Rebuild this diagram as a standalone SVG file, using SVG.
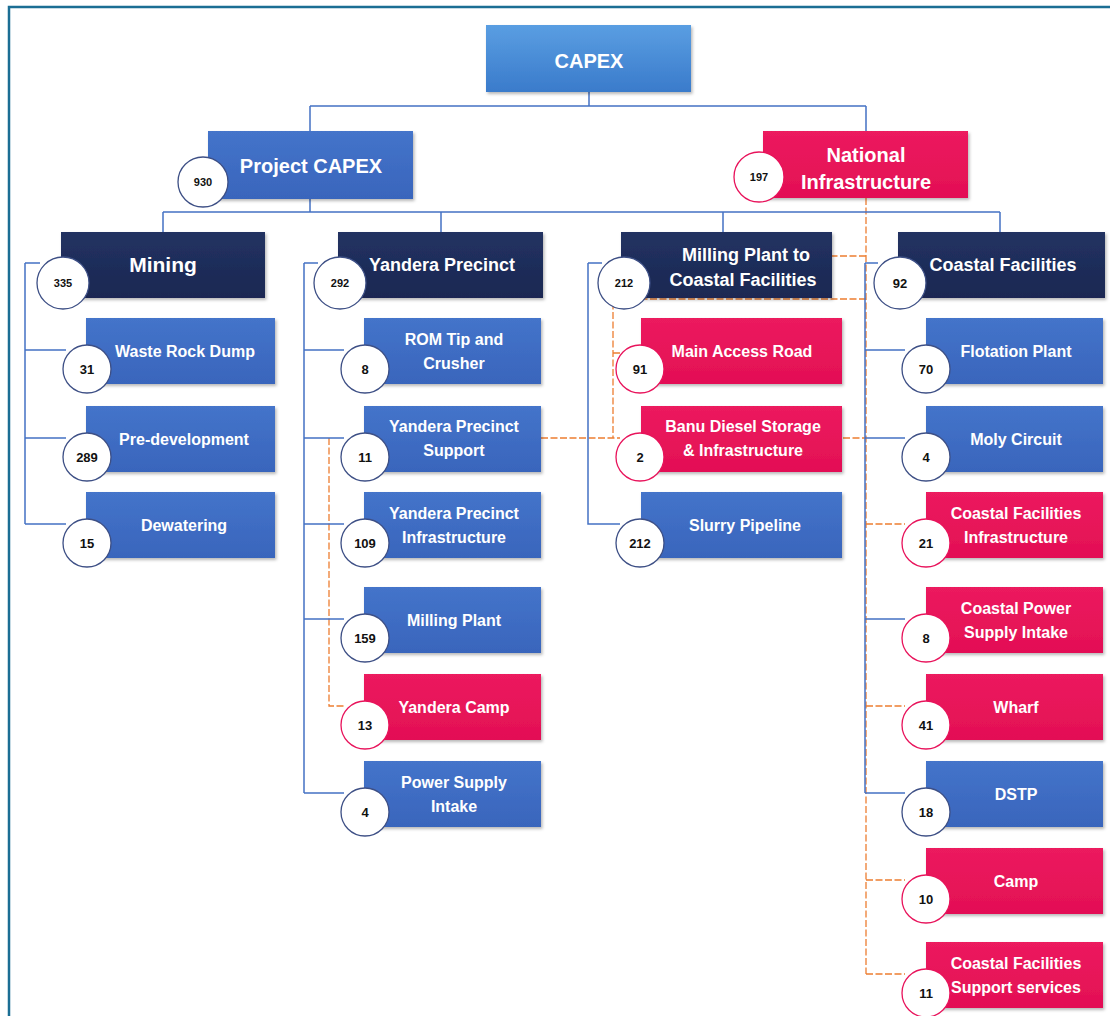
<svg xmlns="http://www.w3.org/2000/svg" width="1110" height="1016" viewBox="0 0 1110 1016">
<defs>
<linearGradient id="gCapex" x1="0" y1="0" x2="0" y2="1"><stop offset="0" stop-color="#5a9ee2"/><stop offset="1" stop-color="#3a7bcb"/></linearGradient>
<linearGradient id="gBlue" x1="0" y1="0" x2="0" y2="1"><stop offset="0" stop-color="#4474ca"/><stop offset="1" stop-color="#3965bc"/></linearGradient>
<linearGradient id="gNavy" x1="0" y1="0" x2="0" y2="1"><stop offset="0" stop-color="#223262"/><stop offset="1" stop-color="#1b2852"/></linearGradient>
<linearGradient id="gRed" x1="0" y1="0" x2="0" y2="1"><stop offset="0" stop-color="#ec1a5e"/><stop offset="1" stop-color="#e30f55"/></linearGradient>
<filter id="sh" x="-10%" y="-10%" width="125%" height="130%"><feDropShadow dx="1.5" dy="2" stdDeviation="1.5" flood-color="#000" flood-opacity="0.28"/></filter>
<style>
.capex{fill:url(#gCapex);filter:url(#sh)}
.blue{fill:url(#gBlue);filter:url(#sh)}
.navy{fill:url(#gNavy);filter:url(#sh)}
.red{fill:url(#gRed);filter:url(#sh)}
.t{font-family:"Liberation Sans",Arial,sans-serif;font-weight:bold;fill:#fff;text-anchor:middle}
.t1{font-size:20px}
.t2{font-size:18px}
.t3{font-size:16px}
.cb{fill:#fff;stroke:#3d4f85;stroke-width:1.3}
.cr{fill:#fff;stroke:#e8135b;stroke-width:1.3}
.n{font-family:"Liberation Sans",Arial,sans-serif;font-weight:bold;fill:#111;text-anchor:middle;font-size:13px}
.ns{font-size:11px}
.bl{fill:none;stroke:#4472c4;stroke-width:1.5}
.or{fill:none;stroke:#ed7d31;stroke-width:1.3;stroke-dasharray:7,2.5}
</style>
</defs>
<rect width="1110" height="1016" fill="#fff"/>
<path d="M9,1016 V7 H1110" fill="none" stroke="#1b6e94" stroke-width="2.5"/>

<g id="connectors">
<path class="or" d="M866,198 V974 M866,256 H832 M866,299 H613 V438 M613,353 H620 M541,438 H620 M843,438 H866 M329,438 V706 H345 M866,524 H905 M866,706 H905 M866,880 H905 M866,974 H905"/>
<path class="bl" d="M589,92 V106 M310,106 H866 M310,106 V131 M866,106 V131 M310,199 V212 M163,212 H1000 M163,212 V232 M441,212 V232 M723,212 V232 M1000,212 V232"/>
<path class="bl" d="M25,263 H40 M25,263 V524 M25,350 H66 M25,438 H66 M25,524 H66"/>
<path class="bl" d="M304,263 H318 M304,263 V793 M304,350 H344 M304,438 H344 M304,524 H344 M304,619 H344 M304,793 H344"/>
<path class="bl" d="M588,263 H602 M588,263 V524 H620"/>
<path class="bl" d="M865,263 H878 M865,263 V793 M865,350 H905 M865,438 H905 M865,619 H905 M865,793 H905"/>
</g>

<g id="n-capex"><rect class="capex" x="486" y="25" width="205" height="67"/><text class="t t1" x="589" y="68">CAPEX</text></g>

<g id="n-project"><rect class="blue" x="208" y="131" width="205" height="68"/><text class="t t1" x="311" y="173">Project CAPEX</text><circle class="cb" cx="203" cy="182" r="25"/><text class="n ns" x="203" y="186">930</text></g>

<g id="n-national"><rect class="red" x="763" y="131" width="205" height="67"/><text class="t" style="font-size:20px" x="866" y="162">National</text><text class="t" style="font-size:20px" x="866" y="189">Infrastructure</text><circle class="cr" cx="759" cy="177" r="25"/><text class="n ns" x="759" y="181">197</text></g>

<g id="n-mining"><rect class="navy" x="61" y="232" width="204" height="66"/><text class="t" style="font-size:21px" x="163" y="272">Mining</text><circle class="cb" cx="63" cy="283" r="26"/><text class="n ns" x="63" y="287">335</text></g>
<g id="n-yandera"><rect class="navy" x="338" y="232" width="205" height="66"/><text class="t t2" x="442" y="271">Yandera Precinct</text><circle class="cb" cx="340" cy="283" r="26"/><text class="n ns" x="340" y="287">292</text></g>
<g id="n-milling"><rect class="navy" x="621" y="232" width="211" height="66"/><text class="t t2" x="746" y="261">Milling Plant to</text><text class="t t2" x="743" y="286">Coastal Facilities</text><circle class="cb" cx="624" cy="283" r="26"/><text class="n ns" x="624" y="287">212</text></g>
<g id="n-coastal"><rect class="navy" x="898" y="232" width="207" height="66"/><text class="t t2" x="1003" y="271">Coastal Facilities</text><circle class="cb" cx="900" cy="283" r="26"/><text class="n" x="900" y="288">92</text></g>

<!-- Mining column -->
<g id="n-waste"><rect class="blue" x="86" y="318" width="189" height="66"/><text class="t t3" x="185" y="357">Waste Rock Dump</text><circle class="cb" cx="87" cy="369" r="24"/><text class="n" x="87" y="374">31</text></g>
<g id="n-predev"><rect class="blue" x="86" y="406" width="189" height="66"/><text class="t t3" x="184" y="445">Pre-development</text><circle class="cb" cx="87" cy="457" r="24"/><text class="n" x="87" y="462">289</text></g>
<g id="n-dewater"><rect class="blue" x="86" y="492" width="189" height="66"/><text class="t t3" x="184" y="531">Dewatering</text><circle class="cb" cx="87" cy="543" r="24"/><text class="n" x="87" y="548">15</text></g>

<!-- Yandera column -->
<g id="n-rom"><rect class="blue" x="364" y="318" width="177" height="66"/><text class="t t3" x="454" y="345">ROM Tip and</text><text class="t t3" x="454" y="369">Crusher</text><circle class="cb" cx="365" cy="369" r="24"/><text class="n" x="365" y="374">8</text></g>
<g id="n-ypsupport"><rect class="blue" x="364" y="406" width="177" height="66"/><text class="t t3" x="454" y="432">Yandera Precinct</text><text class="t t3" x="454" y="456">Support</text><circle class="cb" cx="365" cy="457" r="24"/><text class="n" x="365" y="462">11</text></g>
<g id="n-ypinfra"><rect class="blue" x="364" y="492" width="177" height="66"/><text class="t t3" x="454" y="519">Yandera Precinct</text><text class="t t3" x="454" y="543">Infrastructure</text><circle class="cb" cx="365" cy="543" r="24"/><text class="n" x="365" y="548">109</text></g>
<g id="n-millplant"><rect class="blue" x="364" y="587" width="177" height="66"/><text class="t t3" x="454" y="626">Milling Plant</text><circle class="cb" cx="365" cy="638" r="24"/><text class="n" x="365" y="643">159</text></g>
<g id="n-ycamp"><rect class="red" x="364" y="674" width="177" height="66"/><text class="t t3" x="454" y="713">Yandera Camp</text><circle class="cr" cx="365" cy="725" r="24"/><text class="n" x="365" y="730">13</text></g>
<g id="n-power"><rect class="blue" x="364" y="761" width="177" height="66"/><text class="t t3" x="454" y="788">Power Supply</text><text class="t t3" x="454" y="812">Intake</text><circle class="cb" cx="365" cy="812" r="24"/><text class="n" x="365" y="817">4</text></g>

<!-- Milling column -->
<g id="n-road"><rect class="red" x="641" y="318" width="201" height="66"/><text class="t t3" x="742" y="357">Main Access Road</text><circle class="cr" cx="640" cy="369" r="24"/><text class="n" x="640" y="374">91</text></g>
<g id="n-banu"><rect class="red" x="641" y="406" width="201" height="66"/><text class="t t3" x="743" y="432">Banu Diesel Storage</text><text class="t t3" x="743" y="456">&amp; Infrastructure</text><circle class="cr" cx="640" cy="457" r="24"/><text class="n" x="640" y="462">2</text></g>
<g id="n-slurry"><rect class="blue" x="641" y="492" width="201" height="66"/><text class="t t3" x="745" y="531">Slurry Pipeline</text><circle class="cb" cx="640" cy="543" r="24"/><text class="n" x="640" y="548">212</text></g>

<!-- Coastal column -->
<g id="n-flot"><rect class="blue" x="926" y="318" width="177" height="66"/><text class="t t3" x="1016" y="357">Flotation Plant</text><circle class="cb" cx="926" cy="369" r="24"/><text class="n" x="926" y="374">70</text></g>
<g id="n-moly"><rect class="blue" x="926" y="406" width="177" height="66"/><text class="t t3" x="1016" y="445">Moly Circuit</text><circle class="cb" cx="926" cy="457" r="24"/><text class="n" x="926" y="462">4</text></g>
<g id="n-cfinfra"><rect class="red" x="926" y="492" width="177" height="66"/><text class="t t3" x="1016" y="519">Coastal Facilities</text><text class="t t3" x="1016" y="543">Infrastructure</text><circle class="cr" cx="926" cy="543" r="24"/><text class="n" x="926" y="548">21</text></g>
<g id="n-cpower"><rect class="red" x="926" y="587" width="177" height="66"/><text class="t t3" x="1016" y="614">Coastal Power</text><text class="t t3" x="1016" y="638">Supply Intake</text><circle class="cr" cx="926" cy="638" r="24"/><text class="n" x="926" y="643">8</text></g>
<g id="n-wharf"><rect class="red" x="926" y="674" width="177" height="66"/><text class="t t3" x="1016" y="713">Wharf</text><circle class="cr" cx="926" cy="725" r="24"/><text class="n" x="926" y="730">41</text></g>
<g id="n-dstp"><rect class="blue" x="926" y="761" width="177" height="66"/><text class="t t3" x="1016" y="800">DSTP</text><circle class="cb" cx="926" cy="812" r="24"/><text class="n" x="926" y="817">18</text></g>
<g id="n-camp"><rect class="red" x="926" y="848" width="177" height="66"/><text class="t t3" x="1016" y="887">Camp</text><circle class="cr" cx="926" cy="899" r="24"/><text class="n" x="926" y="904">10</text></g>
<g id="n-cfsupport"><rect class="red" x="926" y="942" width="177" height="66"/><text class="t t3" x="1016" y="969">Coastal Facilities</text><text class="t t3" x="1016" y="993">Support services</text><circle class="cr" cx="926" cy="993" r="24"/><text class="n" x="926" y="998">11</text></g>
</svg>
